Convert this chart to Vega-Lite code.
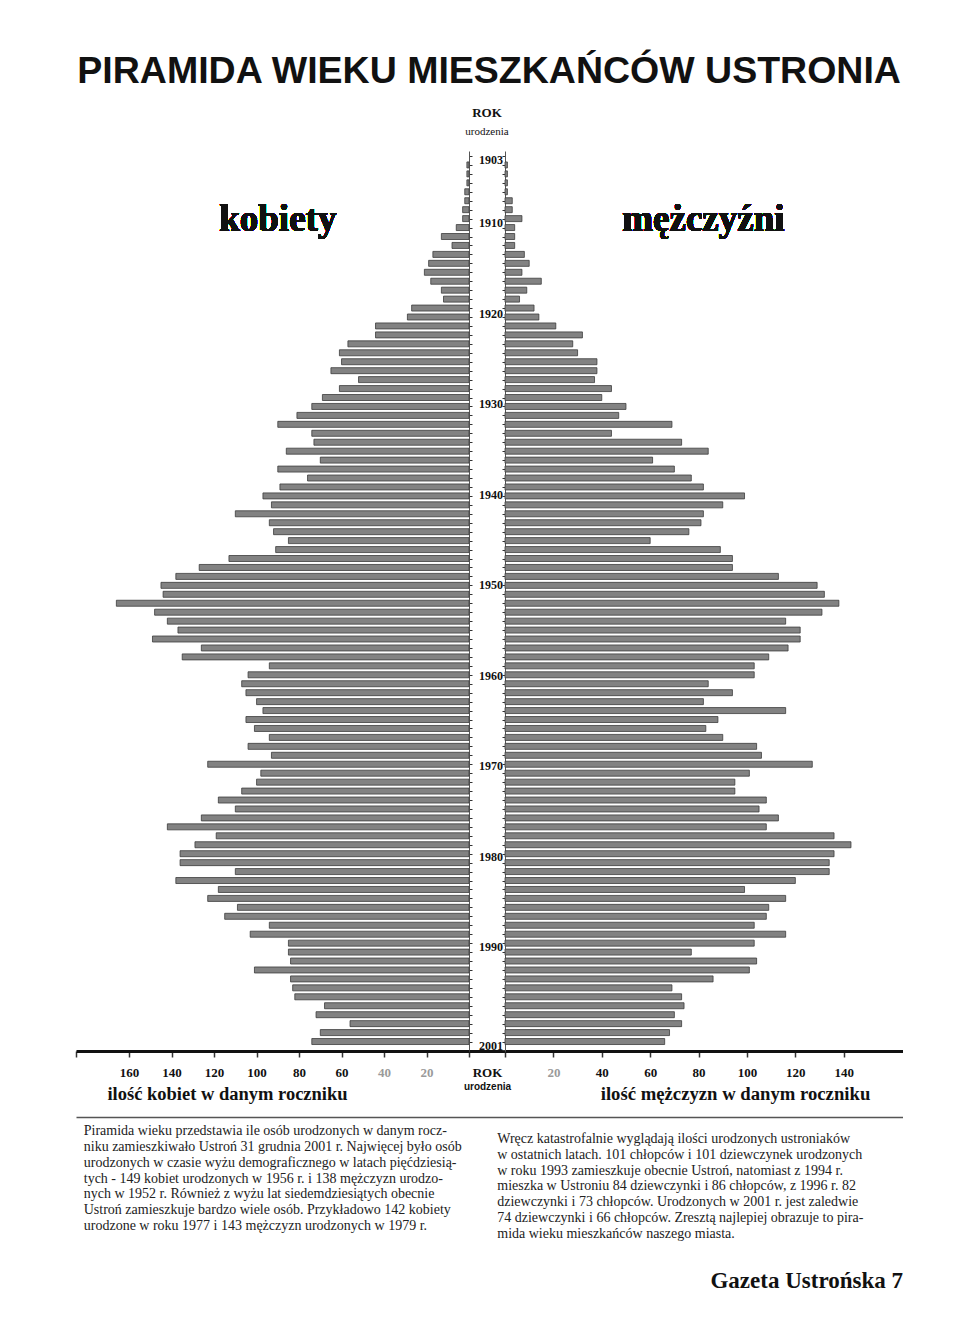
{
  "$schema": "https://vega.github.io/schema/vega-lite/v6.json",
  "background": "white",
  "padding": {"left": 75, "top": 52, "right": 0, "bottom": 0},
  "title": {"text": "PIRAMIDA WIEKU MIESZKAŃCÓW USTRONIA", "font": "Liberation Sans", "fontSize": 37.5, "fontWeight": "bold", "color": "#111", "anchor": "middle", "offset": 17},
  "config": {"view": {"stroke": null}},
  "datasets": {
    "piramida": [
      {"rok": 1903, "kobiety": 1, "mezczyzni": 1},
      {"rok": 1904, "kobiety": 1, "mezczyzni": 1},
      {"rok": 1905, "kobiety": 1, "mezczyzni": 1},
      {"rok": 1906, "kobiety": 2, "mezczyzni": 1},
      {"rok": 1907, "kobiety": 2, "mezczyzni": 3},
      {"rok": 1908, "kobiety": 3, "mezczyzni": 3},
      {"rok": 1909, "kobiety": 3, "mezczyzni": 7},
      {"rok": 1910, "kobiety": 6, "mezczyzni": 4},
      {"rok": 1911, "kobiety": 13, "mezczyzni": 4},
      {"rok": 1912, "kobiety": 8, "mezczyzni": 4},
      {"rok": 1913, "kobiety": 17, "mezczyzni": 8},
      {"rok": 1914, "kobiety": 19, "mezczyzni": 10},
      {"rok": 1915, "kobiety": 21, "mezczyzni": 7},
      {"rok": 1916, "kobiety": 18, "mezczyzni": 15},
      {"rok": 1917, "kobiety": 13, "mezczyzni": 9},
      {"rok": 1918, "kobiety": 12, "mezczyzni": 6},
      {"rok": 1919, "kobiety": 27, "mezczyzni": 12},
      {"rok": 1920, "kobiety": 29, "mezczyzni": 14},
      {"rok": 1921, "kobiety": 44, "mezczyzni": 21},
      {"rok": 1922, "kobiety": 44, "mezczyzni": 32},
      {"rok": 1923, "kobiety": 57, "mezczyzni": 28},
      {"rok": 1924, "kobiety": 61, "mezczyzni": 30},
      {"rok": 1925, "kobiety": 60, "mezczyzni": 38},
      {"rok": 1926, "kobiety": 65, "mezczyzni": 38},
      {"rok": 1927, "kobiety": 52, "mezczyzni": 37},
      {"rok": 1928, "kobiety": 61, "mezczyzni": 44},
      {"rok": 1929, "kobiety": 69, "mezczyzni": 40},
      {"rok": 1930, "kobiety": 74, "mezczyzni": 50},
      {"rok": 1931, "kobiety": 81, "mezczyzni": 47},
      {"rok": 1932, "kobiety": 90, "mezczyzni": 69},
      {"rok": 1933, "kobiety": 74, "mezczyzni": 44},
      {"rok": 1934, "kobiety": 73, "mezczyzni": 73},
      {"rok": 1935, "kobiety": 86, "mezczyzni": 84},
      {"rok": 1936, "kobiety": 70, "mezczyzni": 61},
      {"rok": 1937, "kobiety": 90, "mezczyzni": 70},
      {"rok": 1938, "kobiety": 76, "mezczyzni": 77},
      {"rok": 1939, "kobiety": 89, "mezczyzni": 82},
      {"rok": 1940, "kobiety": 97, "mezczyzni": 99},
      {"rok": 1941, "kobiety": 93, "mezczyzni": 90},
      {"rok": 1942, "kobiety": 110, "mezczyzni": 82},
      {"rok": 1943, "kobiety": 94, "mezczyzni": 81},
      {"rok": 1944, "kobiety": 92, "mezczyzni": 76},
      {"rok": 1945, "kobiety": 85, "mezczyzni": 60},
      {"rok": 1946, "kobiety": 91, "mezczyzni": 89},
      {"rok": 1947, "kobiety": 113, "mezczyzni": 94},
      {"rok": 1948, "kobiety": 127, "mezczyzni": 94},
      {"rok": 1949, "kobiety": 138, "mezczyzni": 113},
      {"rok": 1950, "kobiety": 145, "mezczyzni": 129},
      {"rok": 1951, "kobiety": 144, "mezczyzni": 132},
      {"rok": 1952, "kobiety": 166, "mezczyzni": 138},
      {"rok": 1953, "kobiety": 148, "mezczyzni": 131},
      {"rok": 1954, "kobiety": 142, "mezczyzni": 116},
      {"rok": 1955, "kobiety": 137, "mezczyzni": 122},
      {"rok": 1956, "kobiety": 149, "mezczyzni": 122},
      {"rok": 1957, "kobiety": 126, "mezczyzni": 117},
      {"rok": 1958, "kobiety": 135, "mezczyzni": 109},
      {"rok": 1959, "kobiety": 94, "mezczyzni": 103},
      {"rok": 1960, "kobiety": 104, "mezczyzni": 103},
      {"rok": 1961, "kobiety": 107, "mezczyzni": 84},
      {"rok": 1962, "kobiety": 105, "mezczyzni": 94},
      {"rok": 1963, "kobiety": 100, "mezczyzni": 82},
      {"rok": 1964, "kobiety": 97, "mezczyzni": 116},
      {"rok": 1965, "kobiety": 105, "mezczyzni": 88},
      {"rok": 1966, "kobiety": 101, "mezczyzni": 83},
      {"rok": 1967, "kobiety": 94, "mezczyzni": 90},
      {"rok": 1968, "kobiety": 104, "mezczyzni": 104},
      {"rok": 1969, "kobiety": 93, "mezczyzni": 106},
      {"rok": 1970, "kobiety": 123, "mezczyzni": 127},
      {"rok": 1971, "kobiety": 98, "mezczyzni": 101},
      {"rok": 1972, "kobiety": 100, "mezczyzni": 95},
      {"rok": 1973, "kobiety": 107, "mezczyzni": 95},
      {"rok": 1974, "kobiety": 118, "mezczyzni": 108},
      {"rok": 1975, "kobiety": 110, "mezczyzni": 105},
      {"rok": 1976, "kobiety": 126, "mezczyzni": 113},
      {"rok": 1977, "kobiety": 142, "mezczyzni": 108},
      {"rok": 1978, "kobiety": 119, "mezczyzni": 136},
      {"rok": 1979, "kobiety": 129, "mezczyzni": 143},
      {"rok": 1980, "kobiety": 136, "mezczyzni": 136},
      {"rok": 1981, "kobiety": 136, "mezczyzni": 134},
      {"rok": 1982, "kobiety": 110, "mezczyzni": 134},
      {"rok": 1983, "kobiety": 138, "mezczyzni": 120},
      {"rok": 1984, "kobiety": 118, "mezczyzni": 99},
      {"rok": 1985, "kobiety": 123, "mezczyzni": 116},
      {"rok": 1986, "kobiety": 109, "mezczyzni": 109},
      {"rok": 1987, "kobiety": 115, "mezczyzni": 108},
      {"rok": 1988, "kobiety": 94, "mezczyzni": 103},
      {"rok": 1989, "kobiety": 103, "mezczyzni": 116},
      {"rok": 1990, "kobiety": 85, "mezczyzni": 103},
      {"rok": 1991, "kobiety": 85, "mezczyzni": 77},
      {"rok": 1992, "kobiety": 84, "mezczyzni": 104},
      {"rok": 1993, "kobiety": 101, "mezczyzni": 101},
      {"rok": 1994, "kobiety": 84, "mezczyzni": 86},
      {"rok": 1995, "kobiety": 83, "mezczyzni": 69},
      {"rok": 1996, "kobiety": 82, "mezczyzni": 73},
      {"rok": 1997, "kobiety": 68, "mezczyzni": 74},
      {"rok": 1998, "kobiety": 72, "mezczyzni": 70},
      {"rok": 1999, "kobiety": 56, "mezczyzni": 73},
      {"rok": 2000, "kobiety": 70, "mezczyzni": 68},
      {"rok": 2001, "kobiety": 74, "mezczyzni": 66}
    ],
    "tekst": [
      {"kolumna": "L", "wiersz": 1, "tekst": "Piramida wieku przedstawia ile osób urodzonych w danym rocz-"},
      {"kolumna": "L", "wiersz": 2, "tekst": "niku zamieszkiwało Ustroń 31 grudnia 2001 r. Najwięcej było osób"},
      {"kolumna": "L", "wiersz": 3, "tekst": "urodzonych w czasie wyżu demograficznego w latach pięćdziesią-"},
      {"kolumna": "L", "wiersz": 4, "tekst": "tych - 149 kobiet urodzonych w 1956 r. i 138 mężczyzn urodzo-"},
      {"kolumna": "L", "wiersz": 5, "tekst": "nych w 1952 r. Również z wyżu lat siedemdziesiątych obecnie"},
      {"kolumna": "L", "wiersz": 6, "tekst": "Ustroń zamieszkuje bardzo wiele osób. Przykładowo 142 kobiety"},
      {"kolumna": "L", "wiersz": 7, "tekst": "urodzone w roku 1977 i 143 mężczyzn urodzonych w 1979 r."},
      {"kolumna": "R", "wiersz": 1, "tekst": "Wręcz katastrofalnie wyglądają ilości urodzonych ustroniaków"},
      {"kolumna": "R", "wiersz": 2, "tekst": "w ostatnich latach. 101 chłopców i 101 dziewczynek urodzonych"},
      {"kolumna": "R", "wiersz": 3, "tekst": "w roku 1993 zamieszkuje obecnie Ustroń, natomiast z 1994 r."},
      {"kolumna": "R", "wiersz": 4, "tekst": "mieszka w Ustroniu 84 dziewczynki i 86 chłopców, z 1996 r. 82"},
      {"kolumna": "R", "wiersz": 5, "tekst": "dziewczynki i 73 chłopców. Urodzonych w 2001 r. jest zaledwie"},
      {"kolumna": "R", "wiersz": 6, "tekst": "74 dziewczynki i 66 chłopców. Zresztą najlepiej obrazuje to pira-"},
      {"kolumna": "R", "wiersz": 7, "tekst": "mida wieku mieszkańców naszego miasta."}
    ]
  },
  "spacing": 14,
  "vconcat": [
    {
      "spacing": 0,
      "bounds": "flush",
      "hconcat": [
        {
          "width": 393,
          "height": 900,
          "data": {"name": "piramida"},
          "layer": [
            {
              "mark": {"type": "bar", "orient": "horizontal", "size": 6, "fill": "#828282", "stroke": "#3c3c3c", "strokeWidth": 0.8},
              "encoding": {
                "y": {"field": "rok", "type": "quantitative", "scale": {"domain": [1902, 2001.5], "reverse": true, "nice": false, "zero": false},
                  "axis": {"orient": "right", "title": null, "labels": false, "tickCount": 100, "tickSize": 3, "tickColor": "#333", "domain": true, "domainColor": "#555", "domainWidth": 1, "grid": false}},
                "x": {"field": "kobiety", "type": "quantitative", "scale": {"domain": [0, 185], "reverse": true, "nice": false},
                  "axis": {"title": "ilość kobiet w danym roczniku", "values": [0, 20, 40, 60, 80, 100, 120, 140, 160, 185],
                    "labelExpr": "datum.value > 0 && datum.value < 170 ? datum.label : ''",
                    "labelFont": "Liberation Serif", "labelFontWeight": "bold", "labelFontSize": 13,
                    "labelColor": {"condition": {"test": "datum.value <= 40", "value": "#9a9a9a"}, "value": "#111"},
                    "labelPadding": 9, "labelFlush": false, "tickSize": 6, "tickWidth": 1.5, "tickColor": "#333",
                    "domainWidth": 3, "domainColor": "#111", "grid": false,
                    "titleFont": "Liberation Serif", "titleFontSize": 18.5, "titleFontWeight": "bold", "titleColor": "#111",
                    "titleX": 151, "titleY": 42, "titleAlign": "center", "titleBaseline": "middle"}}
              }
            },
            {
              "mark": {"type": "text", "font": "Liberation Serif", "fontSize": 37, "fontWeight": "bold", "color": "#111"},
              "encoding": {"x": {"datum": 90}, "y": {"datum": 1909.1}, "text": {"value": "kobiety"}}
            }
          ]
        },
        {
          "width": 36,
          "height": 900,
          "data": {"name": "piramida"},
          "transform": [{"filter": "indexof([1903, 1910, 1920, 1930, 1940, 1950, 1960, 1970, 1980, 1990, 2001], datum.rok) >= 0"}],
          "title": {"text": "ROK", "subtitle": "urodzenia", "font": "Liberation Serif", "fontSize": 13, "fontWeight": "bold", "color": "#111", "subtitleFont": "Liberation Serif", "subtitleFontSize": 11, "subtitleColor": "#111", "anchor": "middle", "offset": 14, "subtitlePadding": 6},
          "mark": {"type": "text", "font": "Liberation Serif", "fontSize": 12, "fontWeight": "bold", "align": "right", "baseline": "middle", "dx": -2, "color": "#111"},
          "encoding": {
            "y": {"field": "rok", "type": "quantitative", "scale": {"domain": [1902, 2001.5], "reverse": true, "nice": false, "zero": false}, "axis": null},
            "x": {"datum": 1, "type": "quantitative", "scale": {"domain": [0, 1], "nice": false},
              "axis": {"values": [0.5], "labelExpr": "'ROK'", "ticks": false, "grid": false, "domainWidth": 3, "domainColor": "#111",
                "labelFont": "Liberation Serif", "labelFontWeight": "bold", "labelFontSize": 13, "labelColor": "#111", "labelPadding": 15, "labelFlush": false,
                "title": "urodzenia", "titleFont": "Liberation Sans", "titleFontWeight": "bold", "titleFontSize": 10, "titleColor": "#111", "titlePadding": 2}},
            "text": {"field": "rok", "type": "nominal"}
          }
        },
        {
          "width": 398,
          "height": 900,
          "data": {"name": "piramida"},
          "layer": [
            {
              "mark": {"type": "bar", "orient": "horizontal", "size": 6, "fill": "#828282", "stroke": "#3c3c3c", "strokeWidth": 0.8},
              "encoding": {
                "y": {"field": "rok", "type": "quantitative", "scale": {"domain": [1902, 2001.5], "reverse": true, "nice": false, "zero": false},
                  "axis": {"orient": "left", "title": null, "labels": false, "tickCount": 100, "tickSize": 3, "tickColor": "#333", "domain": true, "domainColor": "#555", "domainWidth": 1, "grid": false}},
                "x": {"field": "mezczyzni", "type": "quantitative", "scale": {"domain": [0, 164.5], "nice": false},
                  "axis": {"title": "ilość mężczyzn w danym roczniku", "values": [0, 20, 40, 60, 80, 100, 120, 140],
                    "labelExpr": "datum.value > 0 ? datum.label : ''",
                    "labelFont": "Liberation Serif", "labelFontWeight": "bold", "labelFontSize": 13,
                    "labelColor": {"condition": {"test": "datum.value <= 20", "value": "#9a9a9a"}, "value": "#111"},
                    "labelPadding": 9, "labelFlush": false, "tickSize": 6, "tickWidth": 1.5, "tickColor": "#333",
                    "domainWidth": 3, "domainColor": "#111", "grid": false,
                    "titleFont": "Liberation Serif", "titleFontSize": 18.7, "titleFontWeight": "bold", "titleColor": "#111",
                    "titleX": 230, "titleY": 42, "titleAlign": "center", "titleBaseline": "middle"}}
              }
            },
            {
              "mark": {"type": "text", "font": "Liberation Serif", "fontSize": 37, "fontWeight": "bold", "color": "#111"},
              "encoding": {"x": {"datum": 82}, "y": {"datum": 1909.1}, "text": {"value": "mężczyźni"}}
            }
          ]
        }
      ]
    },
    {
      "width": 827,
      "height": 131,
      "data": {"name": "tekst"},
      "title": {"text": "Gazeta Ustrońska 7", "orient": "bottom", "anchor": "end", "font": "Liberation Serif", "fontSize": 23, "fontWeight": "bold", "color": "#111", "offset": 22},
      "mark": {"type": "text", "font": "Liberation Serif", "fontSize": 14, "align": "left", "baseline": "middle", "dx": -199, "color": "#222"},
      "encoding": {
        "x": {"field": "kolumna", "type": "nominal", "scale": {"paddingInner": 0, "paddingOuter": 0},
          "axis": {"orient": "top", "title": null, "labels": false, "ticks": false, "domain": true, "domainColor": "#555", "domainWidth": 1.5, "grid": false}},
        "y": {"field": "wiersz", "type": "ordinal", "scale": {"paddingInner": 0, "paddingOuter": 0.6}, "axis": null},
        "yOffset": {"field": "kolumna", "type": "nominal"},
        "text": {"field": "tekst", "type": "nominal"}
      }
    }
  ]
}
